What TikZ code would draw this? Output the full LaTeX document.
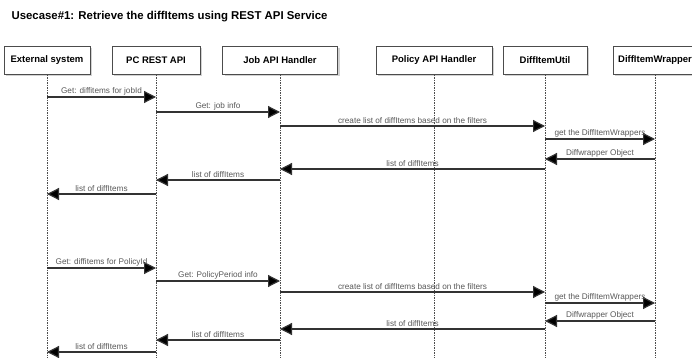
\documentclass[tikz,border=0pt]{standalone}
\usepackage{fontspec}
\setmainfont{Liberation Sans}
\usetikzlibrary{arrows.meta,shadows}

\begin{document}
\begin{tikzpicture}[x=1pt,y=-1pt,
  actor/.style={draw=black!70,fill=white,drop shadow={opacity=0.35,shadow xshift=2pt,shadow yshift=-2pt},minimum height=28pt,font=\fontsize{9.5}{11}\selectfont\bfseries,inner sep=2pt},
  life/.style={draw=black!70,dash pattern=on 1.5pt off 1pt,line width=0.5pt},
  msg/.style={draw=black!80,line width=1.2pt,-{Triangle[length=12pt,width=12pt,fill=black]}},
  lbl/.style={above,text=black!65,font=\fontsize{8.2}{9}\selectfont,inner sep=1.5pt}]
\fill[white] (0,0) rectangle (692,358);
\useasboundingbox (0,0) rectangle (692,358);
\node[anchor=west,font=\fontsize{11.4}{13}\selectfont\bfseries] (title) at (8,17) {Usecase\#1: Retrieve the diffItems using REST API Service};
% participants
\node[actor,minimum width=86pt] (ext) at (47,60.5) {External system};
\node[actor,minimum width=88pt] (pc) at (156,60.5) {PC REST API};
\node[actor,minimum width=115pt] (job) at (280,60.5) {Job API Handler};
\node[actor,minimum width=116pt] (pol) at (434,60.5) {Policy API Handler};
\node[actor,minimum width=84pt] (util) at (545,60.5) {DiffItemUtil};
\node[actor,minimum width=84pt] (wrap) at (655,60.5) {DiffItemWrapper};
% lifelines
\foreach \n in {ext,pc,job,pol,util,wrap} {
   \draw[life] (\n.south) -- (\n.south |- 0,358);
}
% messages
\foreach \from/\to/\y/\txt in %
{ext/pc/97/{Get: diffitems for jobId},
 pc/job/112/{Get: job info},
 job/util/126/{create list of diffItems based on the filters},
 util/wrap/139/{get the DiffItemWrappers},
 wrap/util/159/{Diffwrapper Object},
 util/job/169/{list of diffItems},
 job/pc/180/{list of diffItems},
 pc/ext/194/{list of diffItems},
 ext/pc/268/{Get: diffitems for PolicyId},
 pc/job/281/{Get: PolicyPeriod info},
 job/util/292/{create list of diffItems based on the filters},
 util/wrap/303/{get the DiffItemWrappers},
 wrap/util/321/{Diffwrapper Object},
 util/job/329/{list of diffItems},
 job/pc/340/{list of diffItems},
 pc/ext/352/{list of diffItems}} {
   \draw[msg] (\from.south |- 0,\y) -- node[lbl]{\txt} (\to.south |- 0,\y);
}
\end{tikzpicture}
\end{document}
